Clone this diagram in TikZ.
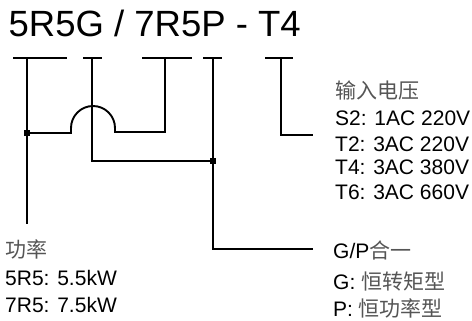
\documentclass[tikz,border=0pt]{standalone}
\usepackage{fontspec}
\setmainfont{Liberation Sans}
\newfontfamily\cjk{Noto Sans CJK SC}
\definecolor{cjkgray}{HTML}{555555}
\newcommand{\zh}[1]{{\cjk\color{cjkgray}#1}}
\begin{document}
\begin{tikzpicture}[x=1pt,y=-1pt,
  wire/.style={line width=1.9pt,line join=miter},
  lbl/.style={anchor=base west,inner sep=0pt,font=\fontsize{21}{21}\selectfont},
  jdot/.style={fill=black,minimum size=6pt,inner sep=0pt,rectangle}]
\useasboundingbox (0,0) rectangle (472,321);
% title
\node[anchor=base west,inner sep=0pt,font=\fontsize{36.5}{37}\selectfont] (title) at (8.5,37) {5R5G / 7R5P - T4};
% bars
\coordinate (b1l) at (13,58); \coordinate (b1r) at (67,58); \coordinate (s1) at (27,58);
\coordinate (b2l) at (83,58); \coordinate (b2r) at (102,58); \coordinate (s2) at (92,58);
\coordinate (b3l) at (142,58); \coordinate (b3r) at (192,58); \coordinate (s3) at (165,58);
\coordinate (b4l) at (203,58); \coordinate (b4r) at (222,58); \coordinate (s4) at (213,58);
\coordinate (b5l) at (265,58); \coordinate (b5r) at (293,58); \coordinate (s5) at (281,58);
\draw[wire] (b1l) -- (b1r);
\draw[wire] (b2l) -- (b2r);
\draw[wire] (b3l) -- (b3r);
\draw[wire] (b4l) -- (b4r);
\draw[wire] (b5l) -- (b5r);
% end points
\coordinate (e1) at (27,224);
\coordinate (j1) at (27,133);
\coordinate (j2) at (213,161);
\coordinate (e4) at (313,249);
\coordinate (e5) at (313,135);
% wires
\draw[wire] (s1) -- (e1);
\draw[wire] (s2) -- (s2 |- j2) -- (j2);
\draw[wire] (s3) -- (165,132) -- (115,132) -- (115,128) arc[start angle=0,end angle=-180,radius=22] -- (71,133) -- (j1);
\draw[wire] (s4) -- (s4 |- e4) -- (e4);
\draw[wire] (s5) -- (s5 |- e5) -- (e5);
\node[jdot] (d1) at (j1) {};
\node[jdot] (d2) at (j2) {};
% right labels
\node[lbl] (v0) at (335,99) {\zh{输入电压}};
\node[lbl] (v1) at (335,125) {S2: 1AC 220V};
\node[lbl] (v2) at (335,152) {T2: 3AC 220V};
\node[lbl] (v3) at (335,175) {T4: 3AC 380V};
\node[lbl] (v4) at (335,200) {T6: 3AC 660V};
\node[lbl] (g0) at (333,258) {G/P\zh{合一}};
\node[lbl] (g1) at (333,289) {G: \zh{恒转矩型}};
\node[lbl] (g2) at (333,316) {P: \zh{恒功率型}};
% left labels
\node[lbl] (p0) at (5,257) {\zh{功率}};
\node[lbl] (p1) at (5,285) {5R5: 5.5kW};
\node[lbl] (p2) at (5,312) {7R5: 7.5kW};
\end{tikzpicture}
\end{document}
